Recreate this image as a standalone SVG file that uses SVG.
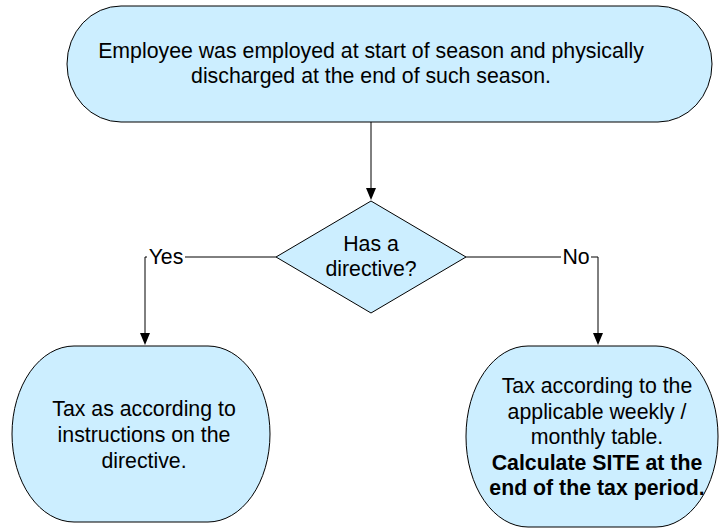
<svg xmlns="http://www.w3.org/2000/svg" width="720" height="529" viewBox="0 0 720 529">
<style>
.n{fill:#cceeff;stroke:#000;stroke-width:1}
.t{font-family:"Liberation Sans",Arial,sans-serif;font-size:21.3px;fill:#000;text-anchor:middle}
.b{font-weight:bold}
.c{fill:none;stroke:#000;stroke-width:1}
.a{fill:#000}
</style>
<g id="connectors">
<path class="c" d="M371,122 V190"/>
<path class="a" d="M366,188 L376,188 L371,200 Z"/>
<path class="c" d="M276,257 H145 V335"/>
<path class="a" d="M140,333 L150,333 L145,345 Z"/>
<path class="c" d="M466,257 H598 V335"/>
<path class="a" d="M593,333 L603,333 L598,345 Z"/>
<rect x="147" y="246" width="38" height="22" fill="#fff"/>
<text class="t" x="166" y="264">Yes</text>
<rect x="561" y="246" width="30" height="22" fill="#fff"/>
<text class="t" x="576" y="264">No</text>
</g>
<g id="start">
<rect class="n" x="67" y="6" width="645" height="116" rx="54" ry="58"/>
<text class="t" x="371" y="58">Employee was employed at start of season and physically</text>
<text class="t" x="371" y="83">discharged at the end of such season.</text>
</g>
<g id="decision">
<polygon class="n" points="371,201 466,257 371,313 276,257"/>
<text class="t" x="371" y="251">Has a</text>
<text class="t" x="371" y="276">directive?</text>
</g>
<g id="yes">
<rect class="n" x="12" y="346" width="258" height="176" rx="62" ry="88"/>
<text class="t" x="144" y="416">Tax as according to</text>
<text class="t" x="144" y="442">instructions on the</text>
<text class="t" x="144" y="468">directive.</text>
</g>
<g id="no">
<rect class="n" x="466" y="346" width="252" height="181" rx="62" ry="90"/>
<text class="t" x="597" y="393">Tax according to the</text>
<text class="t" x="597" y="419">applicable weekly /</text>
<text class="t" x="597" y="444">monthly table.</text>
<text class="t b" x="597" y="470">Calculate SITE at the</text>
<text class="t b" x="597" y="495">end of the tax period.</text>
</g>
</svg>
